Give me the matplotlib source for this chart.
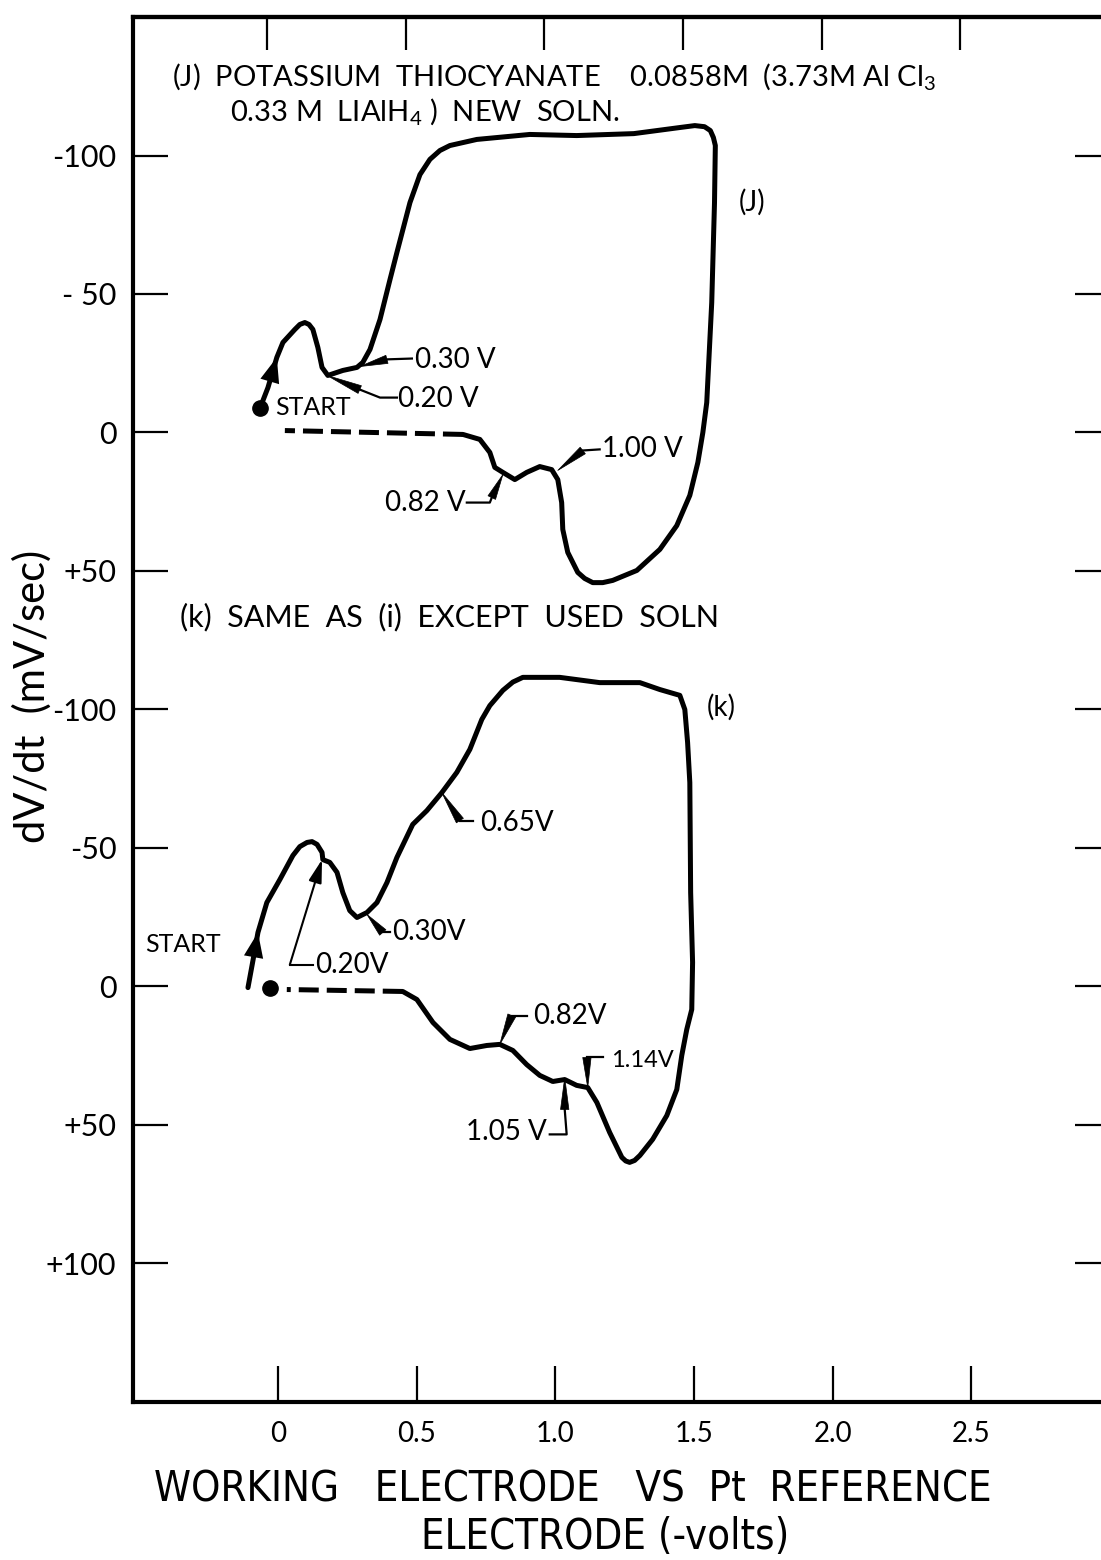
import matplotlib
matplotlib.use("Agg")
import matplotlib.pyplot as plt
from matplotlib import font_manager

# ---- curve (j): potassium thiocyanate, new solution ----
j_volts = [-0.065, -0.036, -0.004, 0.018, 0.061, 0.079, 0.097, 0.112, 0.126, 0.144,
           0.159, 0.180, 0.234, 0.285, 0.306, 0.332, 0.368, 0.404, 0.429, 0.476,
           0.512, 0.548, 0.584, 0.620, 0.717, 0.908, 1.077, 1.283, 1.449, 1.503,
           1.538, 1.559, 1.570, 1.577, 1.574, 1.564, 1.546, 1.532, 1.514, 1.485,
           1.438, 1.377, 1.294, 1.207, 1.171, 1.135, 1.106, 1.081, 1.045, 1.027,
           1.023, 1.009, 0.987, 0.944, 0.897, 0.854, 0.811, 0.782, 0.764, 0.728,
           0.667]
j_rate = [-8.7, -16.2, -27.1, -32.5, -37.2, -39.0, -39.7, -39.0, -37.2, -30.7,
          -23.5, -20.6, -22.4, -23.5, -25.3, -30.0, -40.8, -55.2, -65.0, -83.0,
          -93.1, -98.6, -101.8, -103.6, -105.8, -107.6, -107.2, -107.9, -110.1, -110.8,
          -110.4, -109.0, -106.5, -103.6, -83.0, -46.9, -10.8, 0.0, 10.8, 22.7,
          33.6, 42.2, 49.8, 53.4, 54.2, 54.2, 52.7, 50.5, 43.3, 35.0,
          25.3, 17.0, 13.4, 12.3, 14.4, 17.0, 14.4, 12.6, 7.2, 2.5,
          0.7]
j_return_volts = [0.667, 0.025]
j_return_rate = [0.7, -0.7]

# ---- curve (k): same electrolyte, used solution ----
k_volts = [-0.108, -0.090, -0.072, -0.040, 0.007, 0.054, 0.079, 0.105, 0.123, 0.141,
           0.159, 0.162, 0.187, 0.213, 0.234, 0.259, 0.285, 0.321, 0.357, 0.393,
           0.429, 0.486, 0.537, 0.591, 0.645, 0.692, 0.735, 0.764, 0.811, 0.847,
           0.883, 1.016, 1.160, 1.305, 1.377, 1.449, 1.467, 1.477, 1.485, 1.488,
           1.495, 1.492, 1.474, 1.456, 1.438, 1.402, 1.351, 1.305, 1.286, 1.268,
           1.254, 1.240, 1.196, 1.150, 1.117, 1.077, 1.034, 0.991, 0.944, 0.897,
           0.847, 0.800, 0.753, 0.692, 0.620, 0.559, 0.501, 0.450]
k_rate = [0.4, -9.4, -19.5, -30.3, -38.6, -47.3, -50.5, -52.0, -52.3, -51.3,
          -48.4, -45.8, -44.8, -41.2, -33.9, -27.4, -24.9, -26.7, -30.3, -37.5,
          -46.6, -58.5, -63.5, -70.0, -77.3, -85.6, -96.4, -101.4, -106.9, -109.9,
          -111.6, -111.6, -109.7, -109.7, -107.2, -105.1, -100.0, -88.1, -73.6, -33.9,
          -8.7, 8.3, 15.5, 24.9, 37.2, 46.6, 55.2, 61.0, 62.8, 63.5,
          63.0, 61.7, 52.7, 41.9, 36.5, 35.7, 33.6, 34.3, 32.1, 28.2,
          23.1, 20.9, 21.3, 22.4, 19.1, 13.0, 4.7, 1.8]
k_return_volts = [0.450, 0.032]
k_return_rate = [1.8, 1.1]

# start points of each sweep
j_start = (-0.065, -8.7)
k_start = (-0.029, 0.4)

# axis ticks
x_ticks = [0, 0.5, 1.0, 1.5, 2.0, 2.5]
x_tick_labels = ["0", "0.5", "1.0", "1.5", "2.0", "2.5"]
y_ticks = [-100, -50, 0, 50, 100, 150, 200, 250, 300]
y_tick_labels = ["-100", "- 50", "0", "+50", "-100", "-50", "0", "+50", "+100"]

# the (k) trace sits 200 axis units below the (j) trace
K_SHIFT = 200

MAIN = ["Lato", "DejaVu Sans"]
condensed = any(f.name == "DejaVu Sans" and f.stretch == "condensed"
                for f in font_manager.fontManager.ttflist)
if condensed:
    XLABEL_FONT = dict(family=["DejaVu Sans"], fontstretch="condensed", fontsize=30)
else:
    XLABEL_FONT = dict(family=MAIN, fontsize=29)

plt.rcParams["font.family"] = MAIN
plt.rcParams["mathtext.default"] = "regular"

fig = plt.figure(figsize=(11.01, 15.60), dpi=100)
ax = fig.add_axes([0.1208, 0.1013, 0.8874, 0.8878])
ax.set_xlim(-0.5225, 3.0)
ax.set_ylim(350, -150)

LW = 3.6
ax.plot(j_volts, j_rate, color="black", lw=LW, solid_joinstyle="round", solid_capstyle="round")
ax.plot(j_return_volts, j_return_rate, color="black", lw=LW, dashes=(4, 1.6))
ax.plot(k_volts, [r + K_SHIFT for r in k_rate], color="black", lw=LW,
        solid_joinstyle="round", solid_capstyle="round")
ax.plot(k_return_volts, [r + K_SHIFT for r in k_return_rate], color="black", lw=LW, dashes=(4, 1.6))

ax.plot(*j_start, "o", color="black", ms=11)
ax.plot(k_start[0], k_start[1] + K_SHIFT, "o", color="black", ms=11)

# direction arrows on the starting branch of each sweep
head = dict(arrowstyle="-|>,head_length=0.9,head_width=0.35", color="black",
            lw=0, shrinkA=0, shrinkB=0, mutation_scale=20)
ax.annotate("", xy=(j_volts[2], j_rate[2]), xytext=(j_volts[1], j_rate[1]), arrowprops=head)
ax.annotate("", xy=(k_volts[2], k_rate[2] + K_SHIFT), xytext=(k_volts[1], k_rate[1] + K_SHIFT),
            arrowprops=head)


def pointer(tip, path, shift=0):
    """Tapered pointer from a label to a point on a trace."""
    tip = (tip[0], tip[1] + shift)
    path = [(x, y + shift) for x, y in path]
    ax.plot([p[0] for p in path], [p[1] for p in path], color="black", lw=1.6)
    ax.annotate("", xy=tip, xytext=path[0],
                arrowprops=dict(arrowstyle="wedge,tail_width=0.3", color="black",
                                shrinkA=0, shrinkB=0, mutation_scale=20, lw=0.5))


# pointers on (j)
pointer((0.295, -23.8), [(0.393, -26.4), (0.483, -26.7)])
pointer((0.177, -20.6), [(0.295, -15.5), (0.368, -12.6), (0.429, -12.6)])
pointer((1.009, 13.7), [(1.099, 6.5), (1.160, 6.1)])
pointer((0.811, 15.2), [(0.771, 23.5), (0.764, 25.3), (0.681, 25.3)])

# pointers on (k)
pointer((0.591, -70.0), [(0.656, -59.9), (0.703, -59.9)], K_SHIFT)
pointer((0.321, -26.0), [(0.378, -19.5), (0.404, -19.5)], K_SHIFT)
pointer((0.800, 20.9), [(0.843, 10.5), (0.897, 10.5)], K_SHIFT)
pointer((1.117, 36.5), [(1.114, 25.6), (1.171, 25.6)], K_SHIFT)
pointer((1.034, 32.9), [(1.034, 44.4), (1.041, 53.4), (0.980, 53.4)], K_SHIFT)
# thin arrow for the 0.20 V feature of (k)
ax.plot([0.043, 0.126], [-7.9 + K_SHIFT, -7.9 + K_SHIFT], color="black", lw=1.5)
ax.annotate("", xy=(0.159, -45.8 + K_SHIFT), xytext=(0.043, -7.9 + K_SHIFT),
            arrowprops=dict(arrowstyle="-|>,head_length=0.7,head_width=0.2", color="black",
                            lw=1.5, shrinkA=0, shrinkB=0, mutation_scale=20))

# labels
LBL = 20
HEAD = 21
ax.text(-0.382, -128.4, "(J)  POTASSIUM  THIOCYANATE    0.0858M  (3.73M Al Cl$_3$",
        fontsize=HEAD, va="center", ha="left")
ax.text(-0.173, -116.0, "0.33 M  LIAlH$_4$ )  NEW  SOLN.", fontsize=HEAD, va="center", ha="left")
ax.text(1.708, -83.0, "(J)", fontsize=LBL, va="center", ha="center")
ax.text(0.494, -26.0, "0.30 V", fontsize=LBL, va="center", ha="left")
ax.text(0.432, -12.0, "0.20 V", fontsize=LBL, va="center", ha="left")
ax.text(-0.011, -9.0, "START", fontsize=18, va="center", ha="left")
ax.text(1.168, 5.8, "1.00 V", fontsize=LBL, va="center", ha="left")
ax.text(0.678, 25.3, "0.82 V", fontsize=LBL, va="center", ha="right")

ax.text(-0.353, 66.8, "(k)  SAME  AS  (i)  EXCEPT  USED  SOLN", fontsize=HEAD + 1,
        va="center", ha="left")
ax.text(1.60, 99.3, "(k)", fontsize=LBL, va="center", ha="center")
ax.text(0.728, 140.8, "0.65V", fontsize=LBL, va="center", ha="left")
ax.text(0.411, 180.5, "0.30V", fontsize=LBL, va="center", ha="left")
ax.text(-0.479, 184.8, "START", fontsize=18, va="center", ha="left")
ax.text(0.133, 192.4, "0.20V", fontsize=LBL, va="center", ha="left")
ax.text(0.919, 210.5, "0.82V", fontsize=LBL, va="center", ha="left")
ax.text(1.200, 26.7 + K_SHIFT, "1.14V", fontsize=17, va="center", ha="left")
ax.text(0.969, 252.7, "1.05 V", fontsize=LBL, va="center", ha="right")

# frame and ticks
for side in ("left", "bottom", "top", "right"):
    ax.spines[side].set_linewidth(3)
ax.set_xticks(x_ticks)
ax.set_xticklabels(x_tick_labels, fontsize=20)
ax.set_yticks(y_ticks)
ax.set_yticklabels(y_tick_labels, fontsize=22)
ax.tick_params(axis="x", direction="in", length=26, width=1.6, pad=14, bottom=True, top=False)
ax.tick_params(axis="y", direction="in", length=25, width=1.6, pad=12, left=True, right=True)

top = ax.secondary_xaxis("top", functions=(lambda v: v + 0.04, lambda v: v - 0.04))
top.set_xticks(x_ticks)
top.set_xticklabels([])
top.tick_params(direction="in", length=24, width=1.6)
top.spines["top"].set_linewidth(3)

fig.text(32 / 1101, 1 - 696 / 1560, "dV/dt  (mV/sec)", rotation=90, fontsize=30,
         ha="center", va="center")
fig.text(573 / 1101, 1 - 1490 / 1560, "WORKING   ELECTRODE   VS  Pt  REFERENCE",
         ha="center", va="center", **XLABEL_FONT)
fig.text(605 / 1101, 1 - 1537 / 1560, "ELECTRODE (-volts)", ha="center", va="center",
         **XLABEL_FONT)

fig.savefig("out.png", dpi=100, facecolor="white")
